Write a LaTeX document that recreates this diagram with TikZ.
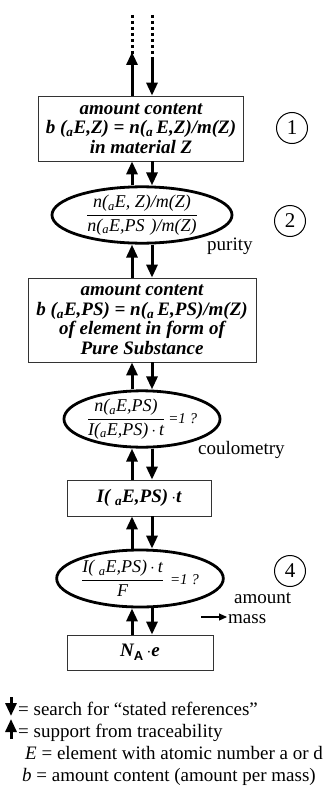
\documentclass[tikz,border=0pt]{standalone}
\usepackage{amsmath}
\usepackage{fontspec}
\setmainfont{Liberation Serif}
\setsansfont{Liberation Sans}
\usetikzlibrary{shapes.geometric,arrows.meta}

\newcommand\sub[1]{\textsubscript{#1}}
\newcommand\ratio[2]{$\displaystyle\genfrac{}{}{0.6pt}{}{\hbox{#1}}{\hbox{#2}}$}

\begin{document}
\begin{tikzpicture}[x=1pt,y=-1pt,
  every node/.style={font=\fontsize{19}{19}\selectfont},
  stepbox/.style={draw=black!80, line width=0.8pt, inner sep=0pt, align=center,
    font=\fontsize{19}{19.5}\selectfont\bfseries\itshape},
  testoval/.style={ellipse, draw, line width=2.8pt, inner sep=0pt, align=center,
    font=\fontsize{18}{18}\selectfont\itshape},
  tip/.style={-{Triangle[length=13pt,width=11pt]}, line width=3pt},
  smalltip/.style={-{Triangle[length=8pt,width=7pt]}, line width=1.1pt},
  dots/.style={line width=3pt, dash pattern=on 3pt off 3pt},
  circ/.style={circle, draw, line width=1pt, minimum size=31pt, inner sep=0pt,
    font=\fontsize{21}{21}\selectfont},
  lbl/.style={inner sep=0pt, anchor=base west}
]
\useasboundingbox (0,0) rectangle (326,797);

% columns of the two arrow tracks
\coordinate (upcol) at (132,0);
\coordinate (dncol) at (152,0);

% chain of quantities and tests
\node[stepbox, minimum width=205pt, minimum height=65pt] (b1) at (141,128.5)
  {amount content\\ b (\sub{a}E,Z) = n(\sub{a}\,E,Z)/m(Z)\\ in material Z};
\node[testoval, minimum width=180pt, minimum height=50pt] (e2) at (142,215)
  {\ratio{n(\sub{a}E, Z)/m(Z)}{n(\sub{a}E,PS\,\,)/m(Z)}};
\node[stepbox, minimum width=228pt, minimum height=84pt] (b2) at (142,320)
  {amount content\\ b (\sub{a}E,PS) = n(\sub{a}\,E,PS)/m(Z)\\ of element in form of\\ Pure Substance};
\node[testoval, minimum width=145pt, minimum height=56pt] (e3) at (142,419)
  {\ratio{n(\sub{a}E,PS)}{I(\sub{a}E,PS)\,$\cdot$\,t}\,{\fontsize{15}{15}\selectfont =1 ?}};
\node[stepbox, minimum width=144pt, minimum height=36pt] (b3) at (139,498)
  {I( \sub{a}E,PS)\,$\cdot$t};
\node[testoval, minimum width=146pt, minimum height=57pt] (e4) at (140,578.5)
  {\ratio{I( \sub{a}E,PS)\,$\cdot$\,t}{F}\,\,{\fontsize{15}{15}\selectfont =1 ?}};
\node[stepbox, minimum width=146pt, minimum height=35pt] (b4) at (140,652.5)
  {N\raisebox{-4pt}{\sffamily\upshape\bfseries\fontsize{13}{13}\selectfont A}\,$\cdot$e};

% open ends at the top
\coordinate (topup) at (132,15);
\coordinate (topdn) at (152,15);
\coordinate (midup) at (132,58);
\coordinate (middn) at (152,58);
\draw[dots] (topup) -- (midup);
\draw[dots] (topdn) -- (middn);
\draw[tip] (b1.north -| upcol) -- ([yshift=6pt]midup);
\draw[tip] (middn) -- (b1.north -| dncol);

% paired arrows between consecutive elements
\foreach \a/\b in {b1/e2, e2/b2, b2/e3, e3/b3, b3/e4, e4/b4} {
  \draw[tip] (\b.north -| upcol) -- (\a.south -| upcol);
  \draw[tip] (\a.south -| dncol) -- (\b.north -| dncol);
}

% step numbers
\node[circ] (c1) at (292,128) {1};
\node[circ] (c2) at (290,221) {2};
\node[circ] (c4) at (290,571) {4};

% side labels
\node[lbl] (pur) at (207,250) {purity};
\node[lbl] (cou) at (198,454) {coulometry};
\node[lbl] (amt) at (234,603) {amount};
\node[lbl] (mas) at (228,623) {mass};
\coordinate (arrstart) at (201,617);
\draw[smalltip] (arrstart) -- ([xshift=-1pt]mas.west |- arrstart);

% legend
\coordinate (ld1) at (11,697);
\coordinate (ld2) at (11,716);
\coordinate (lu1) at (11,739);
\coordinate (lu2) at (11,719);
\draw[tip] (ld1) -- (ld2);
\draw[tip] (lu1) -- (lu2);
\node[lbl] (leg1) at (18,715) {= search for “stated references”};
\node[lbl] (leg2) at (18,737) {= support from traceability};
\node[lbl] (leg3) at (25,759) {\textit{E} = element with atomic number a or d};
\node[lbl] (leg4) at (22,781) {\textit{b} = amount content (amount per mass)};
\end{tikzpicture}
\end{document}
